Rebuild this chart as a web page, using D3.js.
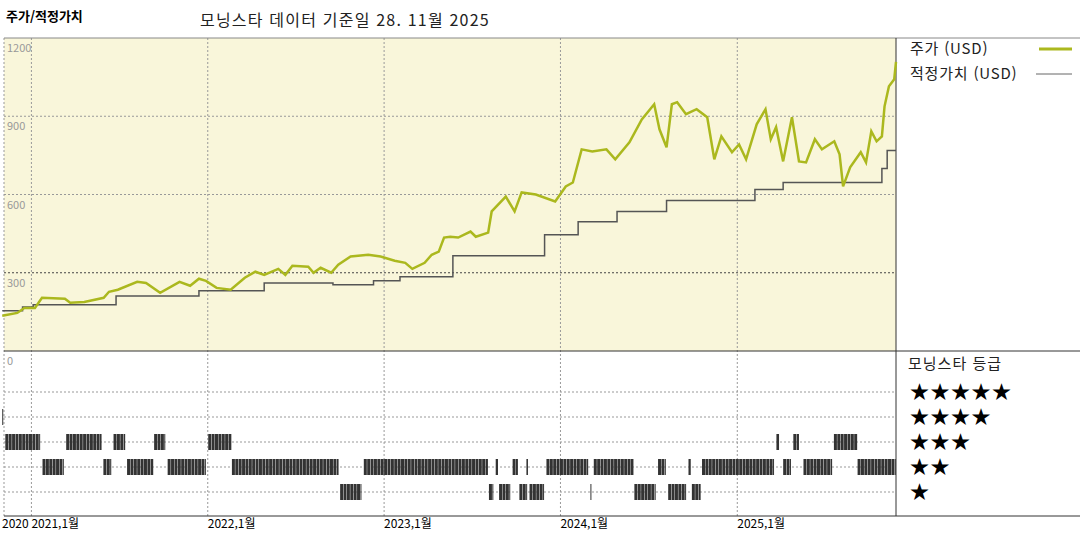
<!DOCTYPE html>
<html lang="ko">
<head>
<meta charset="UTF-8">
<script src="https://d3js.org/d3.v7.min.js"></script>
<style>
body { margin: 0; background: #fff; }
text { font-family: "Noto Sans CJK KR", "DejaVu Sans", sans-serif; }
</style>
</head>
<body>
<svg width="1080" height="540"></svg>
<script>
// price (decimal year, USD)
const priceYears = [2020.835,2020.92,2020.96,2021.02,2021.06,2021.19,2021.22,2021.30,2021.41,2021.44,2021.49,2021.60,2021.65,2021.73,2021.84,2021.90,2021.95,2021.99,2022.05,2022.13,2022.21,2022.27,2022.32,2022.40,2022.44,2022.48,2022.57,2022.60,2022.64,2022.70,2022.74,2022.81,2022.91,2022.98,2023.06,2023.12,2023.16,2023.23,2023.27,2023.31,2023.34,2023.375,2023.42,2023.49,2023.52,2023.59,2023.61,2023.69,2023.74,2023.78,2023.86,2023.97,2024.03,2024.07,2024.12,2024.18,2024.26,2024.31,2024.39,2024.46,2024.53,2024.56,2024.60,2024.63,2024.66,2024.71,2024.77,2024.83,2024.87,2024.91,2024.97,2025.01,2025.05,2025.11,2025.16,2025.19,2025.22,2025.26,2025.31,2025.35,2025.39,2025.44,2025.48,2025.55,2025.58,2025.60,2025.64,2025.70,2025.73,2025.76,2025.79,2025.82,2025.835,2025.86,2025.89,2025.90];
const priceValues = [135,146,165,165,204,200,185,188,204,227,235,265,261,223,265,250,277,269,242,235,281,304,292,315,292,327,323,300,319,300,331,362,369,362,346,338,315,338,369,381,435,438,435,458,438,454,535,592,535,608,600,573,631,646,773,765,773,735,800,888,946,850,781,946,954,908,927,896,735,823,762,792,735,869,927,812,858,727,896,727,723,812,773,804,754,631,704,762,723,842,804,823,938,1015,1042,1108];

// fair value steps
const fairYears = [2020.835,2020.95,2021.01,2021.48,2021.95,2022.32,2022.71,2022.94,2023.09,2023.39,2023.91,2024.10,2024.32,2024.60,2025.10,2025.26,2025.82,2025.85,2025.90];
const fairValues = [154,169,177,211,231,261,254,269,285,365,446,496,535,577,619,646,700,769,769];

// star rating periods
const ratingStart = [2020.835,2020.845,2021.045,2021.18,2021.40,2021.455,2021.534,2021.693,2021.761,2021.989,2022.136,2022.744,2022.869,2023.591,2023.619,2023.648,2023.716,2023.761,2023.807,2023.818,2023.903,2024.159,2024.17,2024.415,2024.54,2024.591,2024.705,2024.739,2024.795,2025.21,2025.25,2025.307,2025.369,2025.54,2025.682];
const ratingEnd   = [2020.840,2021.045,2021.18,2021.40,2021.455,2021.534,2021.693,2021.761,2021.989,2022.136,2022.744,2022.869,2023.591,2023.619,2023.648,2023.716,2023.761,2023.807,2023.818,2023.903,2024.159,2024.17,2024.415,2024.54,2024.591,2024.705,2024.739,2024.795,2025.21,2025.239,2025.301,2025.352,2025.54,2025.682,2025.898];
const ratingStars = [4,3,2,3,2,3,2,3,2,3,2,1,2,1,2,1,2,1,2,1,2,1,2,1,2,1,2,1,2,3,2,3,2,3,2];

const yTicks = [0, 300, 600, 900, 1200];
const xTickDates = ["2020-11-01","2021-01-01","2022-01-01","2023-01-01","2024-01-01","2025-01-01"];
const xTickLabels = ["2020,11월","2021,1월","2022,1월","2023,1월","2024,1월","2025,1월"];
const starLabels = ["★★★★★","★★★★","★★★","★★","★"];

const toDate = y => {
  const yr = Math.floor(y);
  const s = new Date(yr, 0, 1), e = new Date(yr + 1, 0, 1);
  return new Date(+s + (y - yr) * (e - s));
};

const svg = d3.select("svg");
const L = 4, R = 896, T = 38, M = 351, B = 516;

const x = d3.scaleTime().domain([toDate(2020.845), toDate(2025.90)]).range([L, R]);
const y = d3.scaleLinear().domain([0, 1200]).range([M, T]);
const yr = d3.scalePoint().domain([5,4,3,2,1]).range([392, 492]);

// panels
svg.append("rect").attr("x", L).attr("y", T).attr("width", R - L).attr("height", M - T).attr("fill", "#f9f6da");

// grid
const grid = svg.append("g").attr("stroke", "#999").attr("stroke-dasharray", "2,2").attr("stroke-width", 1);
xTickDates.slice(1).forEach(d => {
  const xx = x(new Date(d));
  grid.append("line").attr("x1", xx).attr("x2", xx).attr("y1", T).attr("y2", B);
});
yTicks.slice(1, 4).forEach(v => {
  grid.append("line").attr("x1", L).attr("x2", R).attr("y1", y(v)).attr("y2", y(v))
    .attr("stroke", v === 300 ? "#444" : "#999");
});
yr.domain().forEach(s => {
  grid.append("line").attr("x1", L).attr("x2", R).attr("y1", yr(s)).attr("y2", yr(s));
});
grid.append("line").attr("x1", L).attr("x2", L).attr("y1", T).attr("y2", B);

// frame lines
const fr = svg.append("g").attr("stroke", "#333").attr("stroke-width", 1);
fr.append("line").attr("x1", L).attr("x2", 1080).attr("y1", T).attr("y2", T).attr("stroke", "#888");
fr.append("line").attr("x1", L).attr("x2", 1080).attr("y1", M).attr("y2", M);
fr.append("line").attr("x1", L).attr("x2", 1080).attr("y1", B).attr("y2", B);
fr.append("line").attr("x1", R).attr("x2", R).attr("y1", T).attr("y2", B);

// y labels
yTicks.forEach(v => {
  svg.append("text").attr("x", 7).attr("y", (v === 0 ? M : y(v)) + 14)
    .attr("font-size", 11).attr("fill", "#999").text(v);
});

// lines
const fairLine = d3.line().curve(d3.curveStepAfter).x(d => x(toDate(d[0]))).y(d => y(d[1]));
svg.append("path").datum(fairYears.map((d, i) => [d, fairValues[i]]))
  .attr("d", fairLine).attr("fill", "none").attr("stroke", "#555").attr("stroke-width", 1.5);

const priceLine = d3.line().x(d => x(toDate(d[0]))).y(d => y(d[1]));
svg.append("path").datum(priceYears.map((d, i) => [d, priceValues[i]]))
  .attr("d", priceLine).attr("fill", "none").attr("stroke", "#abb81e").attr("stroke-width", 2.5);

// rating bars
const rb = svg.append("g");
ratingStart.forEach((s, i) => {
  const d0 = toDate(s), d1 = toDate(ratingEnd[i]);
  const weeks = d3.timeWeek.range(d0, d1);
  if (!weeks.length) weeks.push(d0);
  weeks.forEach(w => {
    const x0 = x(w), x1 = Math.min(x(d3.timeWeek.offset(w, 1)), x(d1));
    rb.append("rect").attr("x", x0).attr("y", yr(ratingStars[i]) - 8)
      .attr("width", Math.max(1, x1 - x0 - 0.4)).attr("height", 16).attr("fill", "#333");
  });
});

// x labels
xTickDates.forEach((d, i) => {
  svg.append("text").attr("x", i === 0 ? 2 : x(new Date(d))).attr("y", 528)
    .attr("font-size", 12).attr("fill", "#000").text(i === 0 ? xTickLabels[i].slice(0, 4) : xTickLabels[i]);
});

// titles
svg.append("text").attr("x", 6).attr("y", 21).attr("font-size", 13).attr("font-weight", "bold").text("주가/적정가치");
svg.append("text").attr("x", 200).attr("y", 26).attr("font-size", 16).attr("letter-spacing", 1.2).attr("fill", "#222").text("모닝스타 데이터 기준일 28. 11월 2025");

// legend
svg.append("text").attr("x", 910).attr("y", 54).attr("font-size", 15).attr("letter-spacing", 0.8).attr("fill", "#222").text("주가 (USD)");
svg.append("line").attr("x1", 1039).attr("x2", 1072).attr("y1", 49).attr("y2", 49).attr("stroke", "#abb81e").attr("stroke-width", 3);
svg.append("text").attr("x", 910).attr("y", 79).attr("font-size", 15).attr("letter-spacing", 0.8).attr("fill", "#222").text("적정가치 (USD)");
svg.append("line").attr("x1", 1036).attr("x2", 1072).attr("y1", 74).attr("y2", 74).attr("stroke", "#666").attr("stroke-width", 1);

svg.append("text").attr("x", 908).attr("y", 369).attr("font-size", 15).attr("letter-spacing", 1).attr("fill", "#222").text("모닝스타 등급");
starLabels.forEach((s, i) => {
  svg.append("text").attr("x", 910).attr("y", yr(5 - i) + 7).attr("font-size", 19)
    .attr("font-family", "DejaVu Sans").attr("letter-spacing", 1.5).attr("fill", "#000").text(s);
});
</script>
</body>
</html>
